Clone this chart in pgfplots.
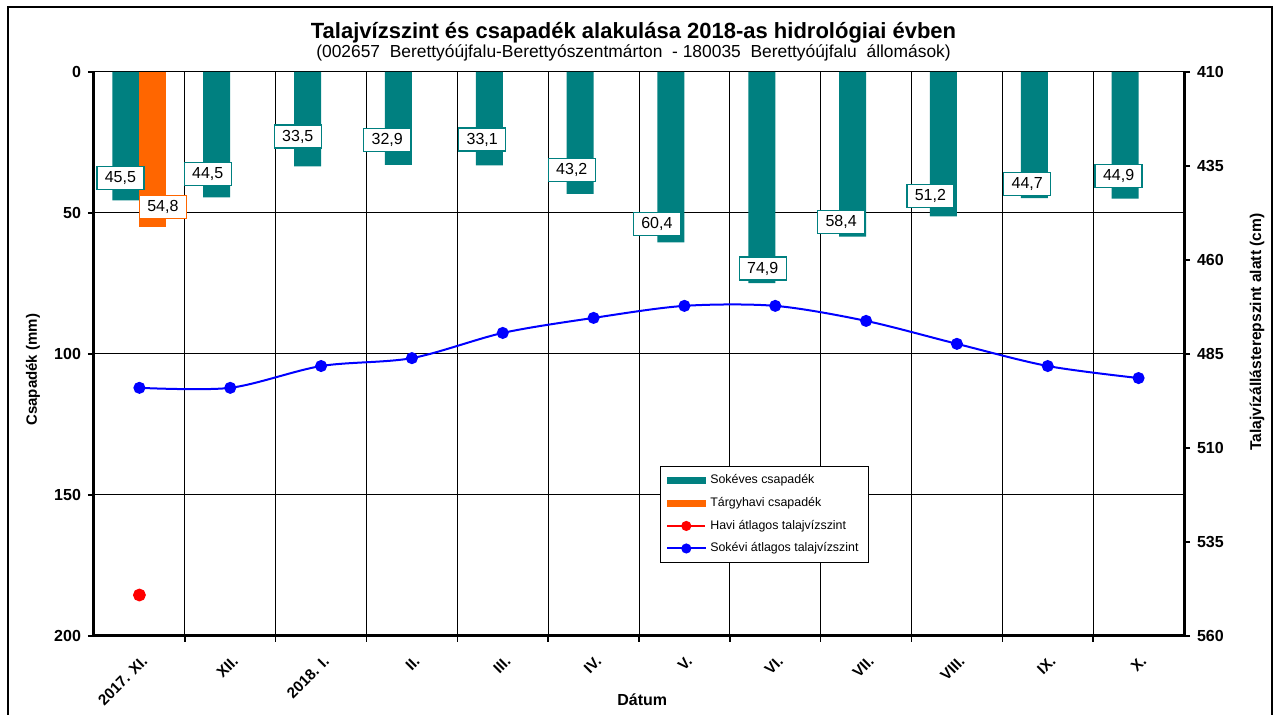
\documentclass[border=0pt]{standalone}
\usepackage{fontspec}
\setmainfont{Liberation Sans}
\usepackage{pgfplots}
\usepackage{pgfplotstable}
\pgfplotsset{compat=1.18}

\definecolor{tealc}{RGB}{0,128,128}
\definecolor{orangec}{RGB}{255,102,0}

% sokeves csapadek (mm), label offsets in pt
\pgfplotstableread{
x y dx dy
0 45.5 -2.75 11
1 44.5 -4.5 11.85
2 33.5 -4.9 14.95
3 32.9 -5.6 12.45
4 33.1 -3.5 12.95
5 43.2 -4.15 11.85
6 60.4 -7 9
7 74.9 0.5 7.35
8 58.4 -5.75 7.35
9 51.2 -6.5 10
10 44.7 -3.5 7
11 44.9 -3.25 11.5
}\sokeves

\pgfplotstableread{
x y dx dy
0 54.8 5 9.7
}\targyhavi

% sokevi atlagos talajvizszint (cm)
\pgfplotstableread{
x y
0 494.0
1 494.0
2 488.2
3 486.1
4 479.4
5 475.4
6 472.2
7 472.2
8 476.2
9 482.3
10 488.2
11 491.4
}\sokevi

\pgfplotsset{
  common/.style={
    scale only axis, width=545pt, height=282pt,
    xmin=-0.5, xmax=11.5, y dir=reverse,
    /pgf/number format/assume math mode=true,
    tick label style={font=\fontsize{8}{9}\selectfont\bfseries},
    tick style={black, line width=0.8pt},
    major tick length=3pt, minor tick length=3pt,
    tick align=outside,
  },
  barlabel/.style={
    nodes near coords={\pgfmathprintnumber[fixed,fixed zerofill,precision=1,use comma]{\pgfplotspointmeta}},
    visualization depends on={\thisrow{dx} \as \dx},
    visualization depends on={\thisrow{dy} \as \dy},
    every node near coord/.append style={anchor=center, xshift=\dx pt, yshift=\dy pt,
      fill=white, draw=#1, line width=0.6pt, inner sep=0pt,
      minimum width=23.5pt, minimum height=11.5pt,
      font=\fontsize{8}{9}\selectfont, text=black},
  },
  linelegend/.style={legend image code/.code={%
    \draw[##1, mark repeat=2, mark phase=2, mark size=2pt]
      plot coordinates {(0pt,0pt) (9.5pt,0pt) (19pt,0pt)};}},
  barlegend/.style={legend image code/.code={%
    \fill[#1] (0pt,-1.4pt) rectangle (19pt,1.4pt);}},
}

\begin{document}
\begin{tikzpicture}
\useasboundingbox (-47pt,-39.5pt) rectangle (591pt,318pt);

\begin{axis}[common,
  ymin=0, ymax=200,
  axis x line*=bottom, axis y line*=left,
  axis line style={line width=1.5pt},
  xtick={0,...,11},
  xticklabels={2017. XI., XII., 2018. I., II., III., IV., V., VI., VII., VIII., IX., X.},
  major x tick style={draw=none},
  minor xtick={0.5,1.5,...,10.5},
  xminorgrids, minor x grid style={black, line width=0.5pt},
  x tick label style={rotate=45, anchor=north east, inner sep=0pt, xshift=-4pt, yshift=-5pt,
    font=\fontsize{7.6}{9}\selectfont\bfseries},
  ytick={0,50,...,200},
  ymajorgrids, major y grid style={black, line width=0.5pt},
  ylabel={Csapadék (mm)},
  xlabel={Dátum},
  every axis y label/.style={at={(axis description cs:-0.056,0.472)}, rotate=90, anchor=center,
    font=\fontsize{7.5}{9}\selectfont\bfseries},
  every axis x label/.style={at={(axis description cs:0.503,-0.113)}, anchor=center,
    font=\fontsize{8}{9}\selectfont\bfseries},
  ybar, bar width=13.5pt,
  clip=false,
]
\addplot[fill=tealc, draw=none, bar shift=-6.75pt, barlabel=tealc] table[x=x, y=y] {\sokeves};
\addplot[fill=orangec, draw=none, bar shift=6.75pt, barlabel=orangec] table[x=x, y=y] {\targyhavi};
\end{axis}

\begin{axis}[common,
  ymin=410, ymax=560,
  axis y line*=right, axis x line=none,
  axis line style={line width=1.5pt},
  ytick={410,435,...,560},
  ylabel={Talajvízállásterepszint alatt (cm)},
  every axis y label/.style={at={(axis description cs:1.067,0.539)}, rotate=90, anchor=center,
    font=\fontsize{7.8}{9}\selectfont\bfseries},
  clip=false,
  legend style={at={(axis description cs:0.519,0.301)}, anchor=north west,
    draw=black, line width=0.6pt, font=\fontsize{6.2}{7}\selectfont,
    row sep=1.2pt, inner xsep=3pt, inner ysep=2pt, cells={anchor=west}},
  legend cell align=left,
]
\addlegendimage{barlegend=tealc}
\addlegendentry{Sokéves csapadék}
\addlegendimage{barlegend=orangec}
\addlegendentry{Tárgyhavi csapadék}
\addplot[red, mark=*, mark size=2.7pt, line width=1pt, linelegend]
  coordinates {(0,549.1)};
\addlegendentry{Havi átlagos talajvízszint}
\addplot[blue, mark=*, mark size=2.5pt, line width=1pt, smooth, tension=0.5, linelegend]
  table[x=x, y=y] {\sokevi};
\addlegendentry{Sokévi átlagos talajvízszint}

\node[font=\fontsize{11}{13}\selectfont\bfseries] at (axis description cs:0.495,1.069)
  {Talajvízszint és csapadék alakulása 2018-as hidrológiai évben};
\node[font=\fontsize{8.7}{10}\selectfont] at (axis description cs:0.495,1.034)
  {(002657\ \ Berettyóújfalu-Berettyószentmárton\ \ - 180035\ \ Berettyóújfalu\ \ állomások)};
\end{axis}

\draw[line width=1pt] (-43pt,-45pt) -- (-43pt,314.5pt) -- (589pt,314.5pt) -- (589pt,-45pt);
\end{tikzpicture}
\end{document}
